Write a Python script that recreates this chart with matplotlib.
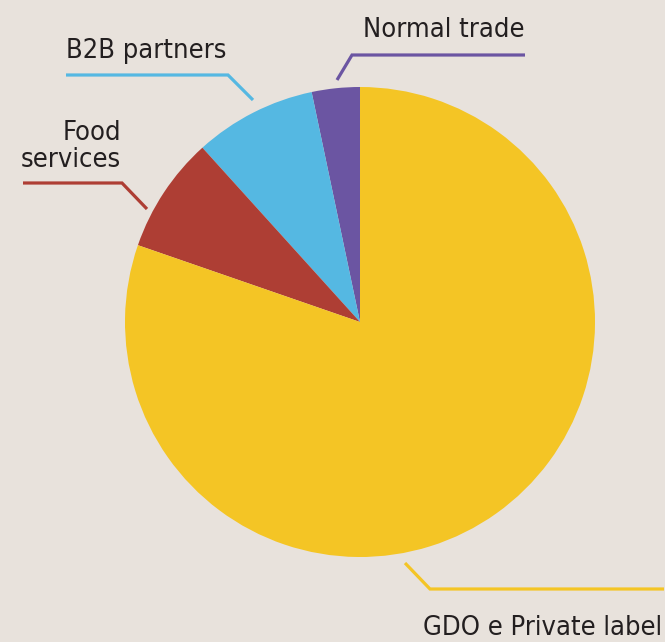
import matplotlib.pyplot as plt

# channel shares (%), counter-clockwise from 12 o'clock
labels = ['Normal trade', 'B2B partners', 'Food services', 'GDO e Private label']
shares = [3.3, 8.4, 8.0, 80.3]
colors = ['#6B55A2', '#55B8E2', '#AE3E34', '#F4C525']

W, H = 665, 642
bg = '#E8E2DC'
ink = '#231F20'
font = ['DejaVu Sans']

fig = plt.figure(figsize=(W / 100, H / 100), dpi=100, facecolor=bg)
ax = fig.add_axes([0, 0, 1, 1])
ax.set_facecolor(bg)

def py(y):
    # pixel row -> data y
    return H - y

ax.pie(shares, colors=colors, startangle=90, counterclock=True,
       center=(360, py(322)), radius=235, frame=True,
       wedgeprops=dict(linewidth=0))
ax.set_xlim(0, W)
ax.set_ylim(0, H)
ax.axis('off')

# leader lines (pixel coords)
leaders = {
    'Normal trade': [(337, 80), (352, 55), (525, 55)],
    'B2B partners': [(253, 100), (228, 75), (66, 75)],
    'Food services': [(147, 209), (122, 183), (23, 183)],
    'GDO e Private label': [(405, 563), (430, 589), (664, 589)],
}
for lab, col in zip(labels, colors):
    pts = leaders[lab]
    ax.plot([p[0] for p in pts], [py(p[1]) for p in pts], color=col,
            lw=2.3, solid_capstyle='butt', solid_joinstyle='miter')

fs = 19.5
kw = dict(fontsize=fs, color=ink, family=font, fontstretch='condensed', va='baseline')
ax.text(363, py(37), 'Normal trade', ha='left', **kw)
ax.text(66, py(58), 'B2B partners', ha='left', **kw)
ax.text(121, py(140), 'Food', ha='right', **kw)
ax.text(121, py(167), 'services', ha='right', **kw)
ax.text(662, py(635), 'GDO e Private label', ha='right', **kw)

fig.savefig('out.png', dpi=100, facecolor=bg)
